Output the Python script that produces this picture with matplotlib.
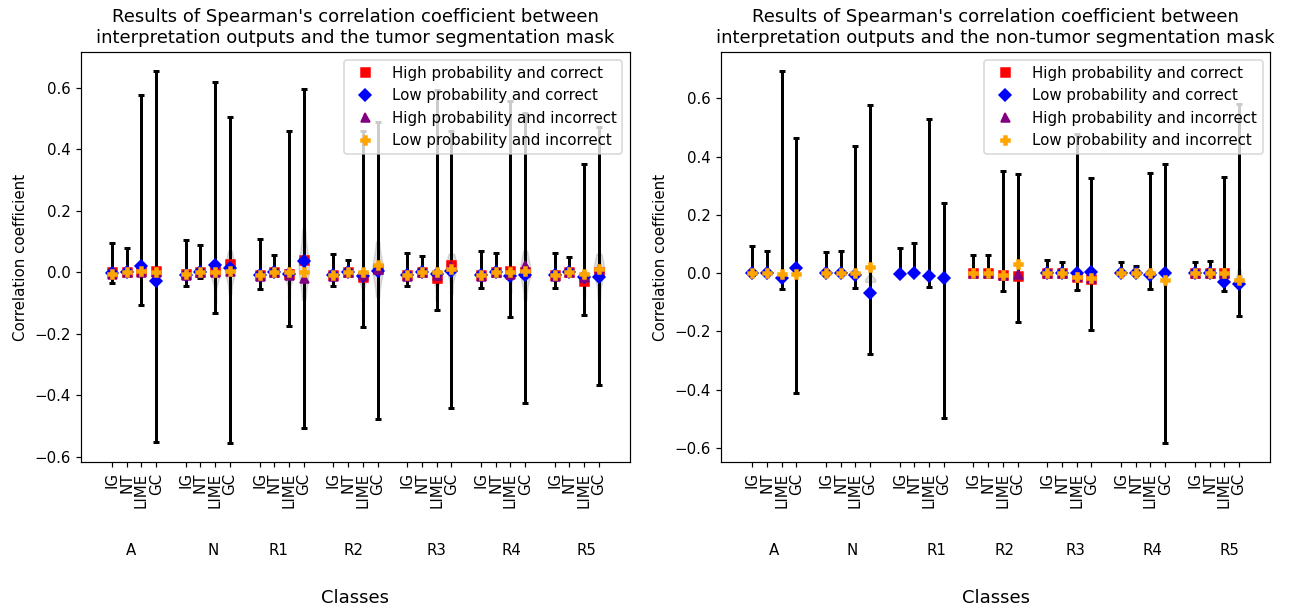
import numpy as np
import matplotlib
matplotlib.use("Agg")
import matplotlib.pyplot as plt

nan = np.nan

classes = ["A", "N", "R1", "R2", "R3", "R4", "R5"]
methods = ["IG", "NT", "LIME", "GC"]

# ---- tumor mask: mean Spearman coefficient, rows = class, cols = IG/NT/LIME/GC
tumor_high_correct = [[0.0, 0.0, 0.005, 0.005],
                      [-0.005, 0.0, 0.005, 0.027],
                      [-0.008, 0.0, -0.005, 0.04],
                      [-0.008, 0.0, -0.015, 0.012],
                      [-0.008, 0.0, -0.018, 0.022],
                      [-0.008, 0.0, 0.005, 0.0],
                      [-0.008, 0.0, -0.027, 0.0]]
tumor_low_correct = [[-0.002, 0.0, 0.02, -0.027],
                     [-0.008, 0.0, 0.022, 0.013],
                     [-0.01, 0.0, -0.005, 0.038],
                     [-0.01, 0.0, -0.013, 0.005],
                     [-0.01, 0.0, -0.005, 0.005],
                     [-0.01, 0.0, -0.012, -0.01],
                     [-0.01, 0.0, -0.015, -0.016]]
tumor_high_incorrect = [[-0.005, 0.0, 0.0, 0.0],
                        [-0.01, 0.0, 0.0, 0.005],
                        [-0.012, 0.0, -0.01, -0.02],
                        [-0.012, 0.0, -0.01, 0.01],
                        [-0.012, 0.0, -0.01, 0.02],
                        [-0.012, 0.0, -0.005, 0.022],
                        [-0.012, 0.0, -0.015, 0.015]]
tumor_low_incorrect = [[-0.005, 0.0, 0.005, 0.0],
                       [-0.007, 0.0, 0.0, 0.005],
                       [-0.01, 0.0, 0.0, 0.0],
                       [-0.008, 0.0, 0.0, 0.025],
                       [-0.008, 0.0, 0.0, 0.012],
                       [-0.008, 0.0, 0.0, 0.005],
                       [-0.008, 0.0, -0.005, 0.01]]
# min / max of the coefficient
tumor_min = [[-0.034, -0.01, -0.106, -0.552],
             [-0.045, -0.018, -0.131, -0.556],
             [-0.053, -0.01, -0.174, -0.505],
             [-0.044, -0.005, -0.177, -0.476],
             [-0.045, -0.01, -0.123, -0.441],
             [-0.05, -0.005, -0.145, -0.426],
             [-0.05, -0.005, -0.138, -0.365]]
tumor_max = [[0.094, 0.079, 0.577, 0.655],
             [0.105, 0.087, 0.619, 0.506],
             [0.107, 0.057, 0.46, 0.596],
             [0.058, 0.039, 0.458, 0.489],
             [0.062, 0.053, 0.593, 0.46],
             [0.07, 0.064, 0.556, 0.518],
             [0.062, 0.049, 0.352, 0.473]]
# bulk of the distribution (violin body), nan = too small to show
tumor_body_lo = [[nan, nan, nan, nan],
                 [nan, nan, -0.10, -0.07],
                 [nan, nan, -0.085, -0.09],
                 [nan, nan, -0.09, -0.08],
                 [nan, nan, -0.09, -0.07],
                 [nan, nan, -0.065, -0.09],
                 [nan, nan, -0.08, -0.09]]
tumor_body_hi = [[nan, nan, nan, nan],
                 [nan, nan, 0.02, 0.07],
                 [nan, nan, 0.01, 0.14],
                 [nan, nan, 0.0, 0.10],
                 [nan, nan, 0.005, 0.06],
                 [nan, nan, 0.005, 0.07],
                 [nan, nan, 0.0, 0.06]]

# ---- non-tumor mask
nontumor_high_correct = [[nan, nan, nan, nan],
                         [nan, nan, nan, nan],
                         [nan, nan, nan, nan],
                         [0.0, 0.0, -0.005, -0.011],
                         [0.0, 0.0, -0.014, -0.02],
                         [nan, nan, nan, nan],
                         [0.0, 0.0, 0.0, nan]]
nontumor_low_correct = [[0.0, 0.0, -0.015, 0.018],
                        [0.0, 0.0, -0.005, -0.067],
                        [-0.004, 0.0, -0.01, -0.015],
                        [nan, nan, nan, nan],
                        [0.0, 0.0, 0.0, 0.005],
                        [0.0, 0.0, -0.005, 0.0],
                        [0.0, 0.0, -0.031, -0.036]]
nontumor_high_incorrect = [[nan, nan, nan, nan],
                           [nan, nan, nan, nan],
                           [nan, nan, nan, nan],
                           [0.0, 0.0, -0.005, -0.002],
                           [0.0, 0.0, -0.01, -0.015],
                           [nan, nan, nan, nan],
                           [0.0, 0.0, 0.0, nan]]
nontumor_low_incorrect = [[0.0, 0.0, -0.002, -0.002],
                          [0.0, 0.0, 0.0, 0.02],
                          [nan, nan, nan, nan],
                          [0.0, 0.0, -0.005, 0.03],
                          [0.0, 0.0, -0.012, -0.015],
                          [0.0, 0.0, 0.0, -0.023],
                          [0.0, 0.0, 0.0, -0.025]]
nontumor_min = [[-0.005, -0.002, -0.054, -0.411],
                [-0.002, -0.002, -0.051, -0.279],
                [-0.004, 0.0, -0.048, -0.496],
                [-0.002, -0.002, -0.062, -0.169],
                [-0.002, -0.002, -0.059, -0.195],
                [-0.002, -0.002, -0.055, -0.584],
                [-0.002, -0.002, -0.062, -0.148]]
nontumor_max = [[0.094, 0.075, 0.695, 0.463],
                [0.071, 0.075, 0.437, 0.577],
                [0.086, 0.102, 0.53, 0.241],
                [0.064, 0.064, 0.349, 0.341],
                [0.045, 0.038, 0.477, 0.326],
                [0.04, 0.024, 0.344, 0.375],
                [0.038, 0.041, 0.329, 0.581]]
nontumor_body_lo = [[nan, nan, nan, nan],
                    [nan, nan, nan, -0.03],
                    [nan, nan, nan, -0.035],
                    [nan, nan, nan, nan],
                    [nan, nan, nan, nan],
                    [nan, nan, nan, nan],
                    [nan, nan, nan, -0.008]]
nontumor_body_hi = [[nan, nan, nan, nan],
                    [nan, nan, nan, 0.016],
                    [nan, nan, nan, 0.01],
                    [nan, nan, nan, nan],
                    [nan, nan, nan, nan],
                    [nan, nan, nan, nan],
                    [nan, nan, nan, 0.012]]

# where the class names sit under each panel (axes fraction)
tumor_class_x = [0.091, 0.24, 0.359, 0.497, 0.648, 0.784, 0.921]
nontumor_class_x = [0.096, 0.239, 0.392, 0.517, 0.646, 0.785, 0.927]


def draw_panel(ax, title, hc, lc, hi, li, cmin, cmax, body_lo, body_hi, class_x):
    # 4 methods per class, one empty slot between classes
    pos = np.array([5 * i + j for i in range(len(classes)) for j in range(len(methods))])

    groups = [np.ravel(hc), np.ravel(lc), np.ravel(hi), np.ravel(li)]
    blo = np.ravel(body_lo)
    bhi = np.ravel(body_hi)

    # violins only where the spread is big enough to be seen
    vdata = []
    vpos = []
    for k in range(len(pos)):
        if np.isnan(blo[k]):
            continue
        centre = np.nanmedian([g[k] for g in groups])
        vdata.append([blo[k], centre, centre, centre, centre, bhi[k]])
        vpos.append(pos[k])
    if vdata:
        vp = ax.violinplot(vdata, positions=vpos, widths=0.7, showextrema=False)
        for body in vp["bodies"]:
            body.set_facecolor("gray")
            body.set_edgecolor("gray")
            body.set_alpha(0.25)

    lo = np.ravel(cmin)
    up = np.ravel(cmax)
    mid = (lo + up) / 2
    ax.errorbar(pos, mid, yerr=[mid - lo, up - mid], fmt="none", ecolor="black",
                elinewidth=2, capsize=2, capthick=2)

    ax.plot(pos, groups[0], "s", color="red", label="High probability and correct")
    ax.plot(pos, groups[1], "D", color="blue", label="Low probability and correct")
    ax.plot(pos, groups[2], "^", color="purple", label="High probability and incorrect")
    ax.plot(pos, groups[3], "P", color="orange", label="Low probability and incorrect")

    ax.set_xticks(pos)
    ax.set_xticklabels(methods * len(classes), rotation=90)
    ax.set_xlim(-2.1, 35.1)

    for cx, name in zip(class_x, classes):
        ax.text(cx, -0.215, name, transform=ax.transAxes, ha="center", va="center", fontsize=10)

    ax.set_xlabel("Classes", fontsize=12)
    ax.xaxis.set_label_coords(0.5, -0.31)
    ax.set_ylabel("Correlation coefficient")
    ax.set_title(title)
    ax.legend(loc="upper right")


fig, (ax1, ax2) = plt.subplots(1, 2, figsize=(1295 / 108, 609 / 108), dpi=108)
fig.subplots_adjust(left=0.0625, right=0.9807, bottom=0.2414, top=0.9146, wspace=0.166)

draw_panel(ax1, "Results of Spearman's correlation coefficient between\n"
                "interpretation outputs and the tumor segmentation mask",
           tumor_high_correct, tumor_low_correct, tumor_high_incorrect, tumor_low_incorrect,
           tumor_min, tumor_max, tumor_body_lo, tumor_body_hi, tumor_class_x)
draw_panel(ax2, "Results of Spearman's correlation coefficient between\n"
                "interpretation outputs and the non-tumor segmentation mask",
           nontumor_high_correct, nontumor_low_correct, nontumor_high_incorrect,
           nontumor_low_incorrect, nontumor_min, nontumor_max, nontumor_body_lo,
           nontumor_body_hi, nontumor_class_x)

plt.savefig("out.png", dpi=108)
